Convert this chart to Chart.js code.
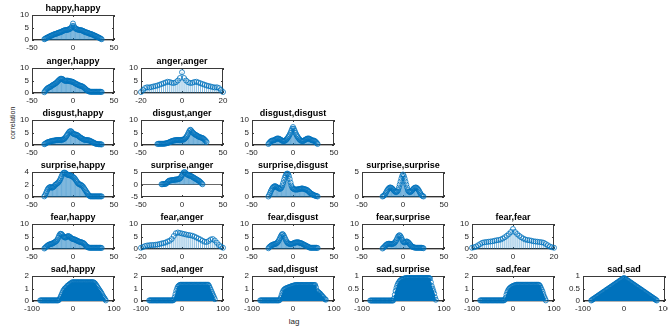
<!DOCTYPE html>
<html><head><meta charset="utf-8">
<script src="https://cdn.jsdelivr.net/npm/chart.js@4.4.1/dist/chart.umd.min.js"></script>
<style>
html,body{margin:0;padding:0;background:#fff;}
body{width:668px;height:329px;overflow:hidden;position:relative;font-family:"Liberation Sans",Arial,sans-serif;}
canvas{position:absolute;}
.lbl{position:absolute;color:#262626;white-space:nowrap;line-height:1;}
</style></head><body>
<div class="lbl" id="ylab" style="left:12px;top:123px;font-size:7px;transform:translate(-50%,-50%) rotate(-90deg);">correlation</div>
<div class="lbl" id="xlab" style="left:294px;top:322px;font-size:8px;transform:translate(-50%,-50%);">lag</div>
<script>
// ---- lags ----
const LAG35=[-35,-34,-33,-32,-31,-30,-29,-28,-27,-26,-25,-24,-23,-22,-21,-20,-19,-18,-17,-16,-15,-14,-13,-12,-11,-10,-9,-8,-7,-6,-5,-4,-3,-2,-1,0,1,2,3,4,5,6,7,8,9,10,11,12,13,14,15,16,17,18,19,20,21,22,23,24,25,26,27,28,29,30,31,32,33,34,35];
const LAG30=[-30,-29,-28,-27,-26,-25,-24,-23,-22,-21,-20,-19,-18,-17,-16,-15,-14,-13,-12,-11,-10,-9,-8,-7,-6,-5,-4,-3,-2,-1,0,1,2,3,4,5,6,7,8,9,10,11,12,13,14,15,16,17,18,19,20,21,22,23,24,25,26,27,28,29,30];
const LAG25=[-25,-24,-23,-22,-21,-20,-19,-18,-17,-16,-15,-14,-13,-12,-11,-10,-9,-8,-7,-6,-5,-4,-3,-2,-1,0,1,2,3,4,5,6,7,8,9,10,11,12,13,14,15,16,17,18,19,20,21,22,23,24,25];
const LAG20=[-20,-19,-18,-17,-16,-15,-14,-13,-12,-11,-10,-9,-8,-7,-6,-5,-4,-3,-2,-1,0,1,2,3,4,5,6,7,8,9,10,11,12,13,14,15,16,17,18,19,20];
const LAG80=[-80,-78,-76,-74,-72,-70,-68,-66,-64,-62,
-60,-58,-56,-54,-52,-50,-48,-46,-44,-42,
-40,-38,-36,-34,-32,-30,-28,-26,-24,-22,
-20,-18,-16,-14,-12,-10,-8,-6,-4,-2,
0,2,4,6,8,10,12,14,16,18,
20,22,24,26,28,30,32,34,36,38,
40,42,44,46,48,50,52,54,56,58,
60,62,64,66,68,70,72,74,76,78,
80];

// ---- correlation values ----
const HAPPY_HAPPY=[0.3,0.5,0.7,0.9,1.0,1.2,1.4,1.5,1.7,1.8,2.0,2.1,2.3,2.4,2.4,2.6,2.7,2.9,3.0,3.0,3.2,3.3,3.5,3.7,3.8,3.9,4.0,4.0,4.1,4.1,4.3,4.4,4.6,5.0,5.6,6.6,
5.6,5.0,4.6,4.4,4.3,4.1,4.1,4.0,4.0,3.9,3.8,3.7,3.5,3.3,3.2,3.0,3.0,2.9,2.7,2.6,2.4,2.4,2.3,2.1,2.0,1.8,1.7,1.5,1.4,1.2,1.0,0.9,0.7,0.5,0.3];
const ANGER_HAPPY=[0.3,0.8,1.2,1.6,1.9, 2.1,2.3,2.4,2.6,2.9, 3.1,3.3,3.5,3.7,3.9, 4.2,4.5,4.9,5.2,5.5, 5.7,5.7,5.6,5.4,5.1, 4.9,4.8,4.9,5.0,4.9, 4.8,4.7,4.7,4.6,4.5,
4.4,4.2,4.0,3.8,3.6, 3.5,3.3,3.1,3.0,2.9, 2.8,2.7,2.5,2.3,2.0, 1.7,1.4,1.1,0.9,0.7, 0.6,0.5,0.5,0.5,0.5, 0.5,0.5,0.5,0.5,0.5, 0.5,0.5,0.5,0.5,0.5, 0.4];
const ANGER_ANGER=[0.4,1.2,2.0,2.3,2.2, 2.4,2.6,2.8,3.0,3.3, 3.6,3.9,4.2,4.5,4.4, 4.1,4.0,4.3,5.0,6.0, 8.3,
6.0,5.0,4.3,4.0,4.1, 4.4,4.5,4.2,3.9,3.6, 3.3,3.0,2.8,2.6,2.4, 2.2,2.3,2.0,1.2,0.4];
const DISGUST_HAPPY=[0.3,0.5,0.7,0.9,1.1, 1.2,1.3,1.4,1.5,1.6, 1.7,1.7,1.8,1.8,1.9, 2.0,2.0,2.0,2.0,2.0, 2.0,2.1,2.1,2.2,2.4, 2.7,3.1,3.6,4.1,4.6, 5.1,5.4,5.6,5.4,5.0,
4.6,4.4,4.3,4.2,4.1, 4.0,3.8,3.5,3.2,3.0, 2.8,2.6,2.4,2.2,2.1, 2.0,2.0,2.0,1.9,1.9, 1.8,1.6,1.5,1.3,1.1, 1.0,0.8,0.6,0.5,0.4, 0.4,0.3,0.3,0.3,0.3, 0.2];
const DISGUST_ANGER=[0.4,0.5,0.5,0.5,0.5, 0.5,0.5,0.5,0.5,0.6, 0.6,0.7,0.8,0.9,1.0, 1.2,1.3,1.5,1.6,1.7, 1.8,1.9,1.9,2.0,2.0, 2.0,2.0,2.0,2.0,2.0,
2.1,2.1,2.2,2.4,2.7, 3.1,3.6,4.2,4.9,5.6, 6.1,5.9,5.4,5.0,4.7, 4.4,4.2,4.0,3.8,3.6, 3.4,3.2,3.1,3.0,2.9, 2.8,2.6,2.3,2.0,1.6, 1.2];
const DISGUST_DISGUST=[0.4,0.8,1.2,1.5,1.7, 1.8,1.8,1.9,2.1,2.3, 2.5,2.6,2.6,2.5,2.3, 2.1,1.9,1.7,1.6,1.6, 1.7,1.9,2.2,2.6,3.1, 3.6,4.2,4.9,5.7,6.5, 7.2,
6.5,5.7,4.9,4.2,3.6, 3.1,2.6,2.2,1.9,1.7, 1.6,1.6,1.7,1.9,2.1, 2.3,2.5,2.6,2.6,2.5, 2.3,2.1,1.9,1.8,1.8, 1.7,1.5,1.2,0.8,0.4];
const SURPRISE_HAPPY=[0.1,0.3,0.6,0.9,1.2, 1.4,1.5,1.6,1.6,1.5, 1.5,1.6,1.7,1.9,2.0, 2.1,2.2,2.3,2.5,2.7, 3.0,3.3,3.6,3.8,3.9, 3.9,3.8,3.7,3.6,3.5, 3.5,3.5,3.4,3.4,3.3,
3.2,3.1,3.0,2.8,2.6, 2.4,2.2,2.1,2.0,2.0, 1.9,1.8,1.7,1.5,1.3, 1.1,0.9,0.7,0.5,0.3, 0.2,0.1,0.1,0.1,0.1, 0.1,0.1,0.1,0.1,0.1, 0.1,0.1,0.1,0.1,0.1, 0.1];
const SURPRISE_ANGER=[0.1,0.1,0.2,0.2,0.2, 0.3,0.4,0.8,1.2,1.5, 1.6,1.6,1.7,1.8,1.8, 1.8,1.9,2.0,2.0,2.0, 2.1,2.2,2.3,2.6,3.1,
3.7,4.3,4.8,5.0,4.8, 4.4,4.1,3.9,3.7,3.6, 3.5,3.4,3.2,3.0,2.8, 2.6,2.4,2.2,2.0,1.8, 1.6,1.4,1.1,0.8,0.4, 0.1];
const SURPRISE_DISGUST=[0.1,0.4,0.8,1.2,1.5, 1.8,2.0,2.1,2.2,2.1, 2.0,1.9,1.8,1.7,1.6, 1.7,1.9,2.3,2.8,3.4, 3.9,4.3,4.6,4.7,4.6, 4.2,3.6,2.9,2.3,1.9,
1.7,1.6,1.5,1.5,1.5, 1.5,1.5,1.6,1.6,1.6, 1.7,1.7,1.7,1.6,1.6, 1.5,1.5,1.4,1.3,1.1, 1.0,0.8,0.7,0.6,0.5, 0.4,0.3,0.3,0.2,0.2, 0.1];
const SURPRISE_SURPRISE=[0.1,0.2,0.3,0.5,0.8, 1.1,1.4,1.6,1.8,1.9, 1.9,1.8,1.7,1.5,1.3, 1.1,1.0,1.0,1.1,1.4, 1.9,2.5,3.1,3.7,4.2, 4.5,
4.2,3.7,3.1,2.5,1.9, 1.4,1.1,1.0,1.0,1.1, 1.3,1.5,1.7,1.8,1.9, 1.9,1.8,1.6,1.4,1.1, 0.8,0.5,0.3,0.2,0.1];
const FEAR_HAPPY=[0.2,0.5,0.8,1.1,1.4, 1.6,1.8,1.9,2.0,2.1, 2.2,2.4,2.6,2.8,3.0, 3.3,3.8,4.5,5.3,5.9, 6.1,6.0,5.6,5.1,4.8, 4.6,4.6,4.8,5.0,5.2, 5.1,4.9,4.6,4.3,4.1,
4.0,3.9,3.8,3.7,3.5, 3.3,3.2,3.0,2.9,2.8, 2.7,2.6,2.5,2.3,2.0, 1.6,1.2,0.9,0.7,0.6, 0.5,0.5,0.5,0.5,0.5, 0.5,0.5,0.5,0.5,0.5, 0.5,0.5,0.5,0.5,0.5, 0.4];
const FEAR_ANGER=[0.5,0.8,1.2,1.4,1.5, 1.6,1.6,1.7,1.8,2.0, 2.2,2.4,2.6,3.0,3.3, 4.0,5.2,6.3,6.6,6.4, 6.2,
6.0,5.8,5.6,5.5,5.3, 5.0,4.6,4.2,3.8,3.3, 2.9,2.8,3.2,3.8,4.0, 3.4,2.5,1.6,1.0,0.5];
const FEAR_DISGUST=[0.3,0.7,1.0,1.3,1.5, 1.7,1.8,1.9,2.0,2.1, 2.3,2.6,3.0,3.6,4.3, 5.0,5.6,6.0,5.8,5.2, 4.5,3.8,3.1,2.6,2.3, 2.1,2.0,2.0,2.0,2.1,
2.2,2.3,2.5,2.6,2.6, 2.7,2.7,2.6,2.5,2.4, 2.3,2.2,2.0,1.8,1.6, 1.5,1.3,1.1,1.0,0.8, 0.6,0.5,0.5,0.5,0.5, 0.5,0.5,0.5,0.5,0.5, 0.4];
const FEAR_SURPRISE=[0.2,0.5,0.8,1.2,1.5, 1.8,2.0,2.1,2.1,2.1, 2.0,2.0,2.0,2.1,2.3, 2.6,3.0,3.6,4.3,5.0, 5.4,5.5,5.1,4.5,3.7,
3.1,2.7,2.6,2.8,3.0, 3.0,2.8,2.5,2.1,1.7, 1.3,1.0,0.8,0.7,0.6, 0.5,0.5,0.5,0.5,0.5, 0.5,0.5,0.5,0.5,0.4, 0.3];
const FEAR_FEAR=[0.5,0.7,1.0,1.5,2.0, 2.5,2.7,2.8,2.9,3.0, 3.1,3.3,3.5,3.6,3.8, 4.2,4.7,5.3,6.0,6.8, 8.0,
6.8,6.0,5.3,4.7,4.2, 3.8,3.6,3.5,3.3,3.1, 3.0,2.9,2.8,2.7,2.5, 2.0,1.5,1.0,0.7,0.5];
const SAD_HAPPY=[0.05,0.05,0.05,0.05,0.05,0.05,0.05,0.05,0.05,0.05,
0.05,0.05,0.05,0.05,0.05,0.05,0.05,0.05,0.05,0.05,
0.05,0.05,0.05,0.1,0.2,0.35,0.5,0.65,0.8,0.9,
1.0,1.05,1.1,1.2,1.25,1.3,1.35,1.4,1.45,1.5,
1.5,1.5,1.5,1.5,1.5,1.5,1.5,1.5,1.5,1.5,
1.5,1.5,1.5,1.5,1.5,1.5,1.5,1.5,1.5,1.5,
1.5,1.5,1.5,1.5,1.5,1.5,1.45,1.4,1.3,1.2,
1.1,1.0,0.9,0.8,0.7,0.6,0.45,0.35,0.25,0.15,
0.05];
const SAD_ANGER=[0.05,0.05,0.05,0.05,0.05,0.05,0.05,0.05,0.05,0.05,
0.05,0.05,0.05,0.05,0.05,0.05,0.05,0.05,0.05,0.05,
0.05,0.05,0.05,0.05,0.05,0.05,0.05,0.05,0.05,0.05,
0.1,0.3,0.55,0.8,1.0,1.15,1.22,1.27,1.3,1.3,
1.3,1.3,1.3,1.3,1.3,1.3,1.3,1.3,1.3,1.3,
1.3,1.3,1.3,1.3,1.3,1.3,1.3,1.3,1.3,1.3,
1.3,1.3,1.3,1.3,1.3,1.3,1.3,1.3,1.3,1.3,
1.3,1.3,1.3,1.2,1.05,0.9,0.75,0.6,0.45,0.3,
0.15];
const SAD_DISGUST=[0.05,0.05,0.05,0.05,0.05,0.05,0.05,0.05,0.05,0.05,
0.05,0.05,0.05,0.05,0.05,0.05,0.05,0.05,0.05,0.05,
0.05,0.05,0.05,0.05,0.1,0.25,0.45,0.65,0.8,0.9,
0.95,1.0,1.02,1.05,1.08,1.1,1.12,1.15,1.18,1.2,
1.22,1.24,1.25,1.28,1.28,1.28,1.28,1.28,1.28,1.28,
1.28,1.28,1.28,1.28,1.28,1.28,1.28,1.28,1.28,1.28,
1.28,1.28,1.28,1.28,1.28,1.28,1.28,1.28,1.1,0.85,
0.75,0.7,0.65,0.6,0.5,0.45,0.35,0.3,0.2,0.15,
0.1];
const SAD_SURPRISE=[0.02,0.02,0.02,0.02,0.02,0.02,0.02,0.02,0.02,0.02,
0.02,0.02,0.02,0.02,0.02,0.02,0.02,0.02,0.02,0.02,
0.02,0.02,0.02,0.02,0.02,0.02,0.02,0.02,0.02,0.1,
0.25,0.4,0.52,0.62,0.7,0.75,0.8,0.83,0.85,0.87,
0.88,0.89,0.9,0.92,0.92,0.92,0.92,0.92,0.92,0.92,
0.92,0.92,0.92,0.92,0.92,0.92,0.92,0.92,0.92,0.92,
0.92,0.92,0.92,0.92,0.92,0.92,0.92,0.92,0.92,0.92,
0.92,0.92,0.92,0.9,0.75,0.6,0.5,0.4,0.3,0.15,
0.05];
const SAD_FEAR=[0.05,0.05,0.05,0.05,0.05,0.05,0.05,0.05,0.05,0.05,
0.05,0.05,0.05,0.05,0.05,0.05,0.05,0.05,0.05,0.05,
0.05,0.05,0.05,0.05,0.05,0.05,0.05,0.05,0.05,0.05,
0.1,0.25,0.5,0.7,0.85,0.95,1.02,1.08,1.13,1.17,
1.2,1.23,1.25,1.27,1.3,1.3,1.3,1.3,1.3,1.3,
1.3,1.3,1.3,1.3,1.3,1.3,1.3,1.3,1.3,1.3,
1.3,1.3,1.3,1.3,1.3,1.3,1.3,1.3,1.3,1.3,
1.3,1.3,1.28,1.2,1.05,0.9,0.75,0.55,0.35,0.2,
0.05];
const SAD_SAD=[0.02,0.04,0.07,0.09,0.11,0.13,0.16,0.18,0.20,0.22,
0.25,0.27,0.29,0.31,0.34,0.36,0.38,0.40,0.43,0.45,
0.47,0.49,0.52,0.54,0.56,0.58,0.61,0.63,0.65,0.67,
0.70,0.72,0.74,0.76,0.79,0.81,0.83,0.85,0.88,0.90,
0.92,0.90,0.88,0.85,0.83,0.81,0.79,0.76,0.74,0.72,
0.70,0.67,0.65,0.63,0.61,0.58,0.56,0.54,0.52,0.49,
0.47,0.45,0.43,0.40,0.38,0.36,0.34,0.31,0.29,0.27,
0.25,0.22,0.20,0.18,0.16,0.13,0.11,0.09,0.07,0.04,
0.02];

// ---- panel list: title, grid cell, data, axis limits ----
const PANELS=[
 ['happy,happy',0,0,LAG35,HAPPY_HAPPY,50,0,10,5],
 ['anger,happy',1,0,LAG35,ANGER_HAPPY,50,0,10,5],
 ['anger,anger',1,1,LAG20,ANGER_ANGER,20,0,10,5],
 ['disgust,happy',2,0,LAG35,DISGUST_HAPPY,50,0,10,5],
 ['disgust,anger',2,1,LAG30,DISGUST_ANGER,50,0,10,5],
 ['disgust,disgust',2,2,LAG30,DISGUST_DISGUST,50,0,10,5],
 ['surprise,happy',3,0,LAG35,SURPRISE_HAPPY,50,0,4,2],
 ['surprise,anger',3,1,LAG25,SURPRISE_ANGER,50,-5,5,5],
 ['surprise,disgust',3,2,LAG30,SURPRISE_DISGUST,50,0,5,5],
 ['surprise,surprise',3,3,LAG25,SURPRISE_SURPRISE,50,0,5,5],
 ['fear,happy',4,0,LAG35,FEAR_HAPPY,50,0,10,5],
 ['fear,anger',4,1,LAG20,FEAR_ANGER,20,0,10,5],
 ['fear,disgust',4,2,LAG30,FEAR_DISGUST,50,0,10,5],
 ['fear,surprise',4,3,LAG25,FEAR_SURPRISE,50,0,10,5],
 ['fear,fear',4,4,LAG20,FEAR_FEAR,20,0,10,5],
 ['sad,happy',5,0,LAG80,SAD_HAPPY,100,0,2,1],
 ['sad,anger',5,1,LAG80,SAD_ANGER,100,0,2,1],
 ['sad,disgust',5,2,LAG80,SAD_DISGUST,100,0,2,1],
 ['sad,surprise',5,3,LAG80,SAD_SURPRISE,100,0,1,0.5],
 ['sad,fear',5,4,LAG80,SAD_FEAR,100,0,2,1],
 ['sad,sad',5,5,LAG80,SAD_SAD,100,0,1,0.5]
];

// ---- layout (pixels) ----
const COLX=[32,141,252,362,472,583];
const ROWY=[15,68,120,172,224,276];
const AXW=82, AXH=25, LEFTW=30, TOPH=16, BOTH=14, RIGHTW=10;
const BLUE='#0072BD', AXC='#262626';

Chart.defaults.font.family='"Liberation Sans", Arial, Helvetica, sans-serif';

const stemPlugin={
  id:'stems',
  beforeDatasetsDraw(chart,args,opts){
    const {ctx,chartArea:a,scales:{x,y}}=chart;
    ctx.save();
    // axes box
    ctx.strokeStyle='#3a3a3a'; ctx.lineWidth=1;
    ctx.strokeRect(a.left+0.5,a.top+0.5,a.right-a.left-1,a.bottom-a.top-1);
    // inward ticks
    ctx.beginPath();
    x.ticks.forEach(t=>{const p=Math.round(x.getPixelForValue(t.value))+0.5;
      ctx.moveTo(p,a.bottom);ctx.lineTo(p,a.bottom-2);ctx.moveTo(p,a.top);ctx.lineTo(p,a.top+2);});
    y.ticks.forEach(t=>{const p=Math.round(y.getPixelForValue(t.value))+0.5;
      ctx.moveTo(a.left,p);ctx.lineTo(a.left+2,p);ctx.moveTo(a.right,p);ctx.lineTo(a.right-2,p);});
    ctx.stroke();
    // stem baseline
    const y0=y.getPixelForValue(0);
    ctx.strokeStyle=AXC; ctx.lineWidth=0.7;
    ctx.beginPath(); ctx.moveTo(a.left,y0); ctx.lineTo(a.right,y0); ctx.stroke();
    // stems
    const ds=chart.data.datasets[0];
    ctx.strokeStyle=BLUE; ctx.lineWidth=opts.width||0.5;
    ctx.beginPath();
    ds.data.forEach(pt=>{const px=x.getPixelForValue(pt.x);
      ctx.moveTo(px,y0); ctx.lineTo(px,y.getPixelForValue(pt.y));});
    ctx.stroke();
    ctx.restore();
  }
};

const fmt=v=>String(v);

PANELS.forEach(([title,r,c,lags,vals,xm,ymin,ymax,ystep])=>{
  const cv=document.createElement('canvas');
  const W=LEFTW+AXW+RIGHTW, H=TOPH+AXH+BOTH;
  cv.width=W; cv.height=H;
  cv.style.width=W+'px'; cv.style.height=H+'px';
  cv.style.left=(COLX[c]-LEFTW)+'px'; cv.style.top=(ROWY[r]-TOPH)+'px';
  document.body.appendChild(cv);
  const pts=lags.map((l,i)=>({x:l,y:vals[i]}));
  new Chart(cv,{
    type:'scatter',
    data:{datasets:[{data:pts,showLine:false,pointRadius:2.5,pointHoverRadius:2.5,
      pointBorderWidth:0.8,pointBorderColor:BLUE,pointBackgroundColor:'rgba(0,0,0,0)',clip:false}]},
    options:{
      responsive:false,animation:false,events:[],devicePixelRatio:1,
      layout:{padding:{left:0,right:RIGHTW,top:0,bottom:0}},
      plugins:{
        legend:{display:false},tooltip:{enabled:false},
        title:{display:true,text:title,fullSize:false,color:'#000',
          font:{size:9,weight:'bold',lineHeight:1},padding:{top:5,bottom:2}},
        stems:{width: xm===100?1.6:0.5}
      },
      scales:{
        x:{type:'linear',min:-xm,max:xm,
          afterFit:s=>{s.height=BOTH;},
          ticks:{stepSize:xm,autoSkip:false,maxRotation:0,minRotation:0,padding:3,color:AXC,font:{size:8},callback:fmt},
          grid:{display:false,drawTicks:false},border:{display:false}},
        y:{type:'linear',min:ymin,max:ymax,
          afterFit:s=>{s.width=LEFTW;},
          ticks:{stepSize:ystep,autoSkip:false,padding:3,color:AXC,font:{size:8},callback:fmt},
          grid:{display:false,drawTicks:false},border:{display:false}}
      }
    },
    plugins:[stemPlugin]
  });
});
</script>
</body></html>
